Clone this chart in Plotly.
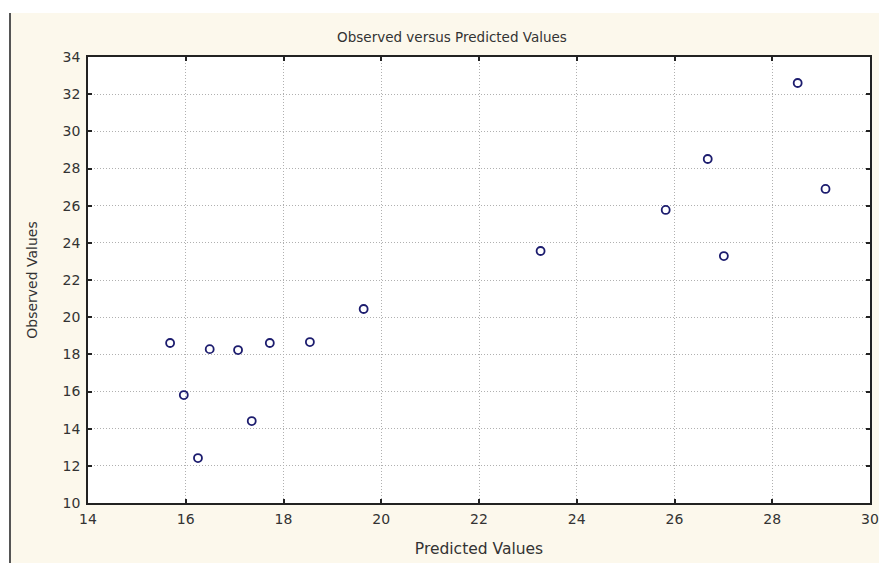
import plotly.graph_objects as go

predicted = [15.68, 15.96, 16.25, 16.49, 17.07, 17.35, 17.72, 18.54, 19.64,
             23.26, 25.82, 26.68, 27.01, 28.52, 29.09]
observed = [18.61, 15.81, 12.42, 18.28, 18.23, 14.41, 18.61, 18.66, 20.44,
            23.56, 25.77, 28.51, 23.29, 32.60, 26.90]

title_text = "Observed versus Predicted Values"
x_title = "Predicted Values"
y_title = "Observed Values"

W, H = 879, 563
L, R, T, B = 88, 9, 57, 60
pw, ph = W - L - R, H - T - B
FONT = "DejaVu Sans, Verdana, sans-serif"
TXT = "#333333"

def px_x(p):
    return (p - L) / pw

def px_y(p):
    return (H - B - p) / ph

fig = go.Figure()
fig.add_trace(go.Scatter(
    x=predicted, y=observed, mode="markers",
    marker=dict(symbol="circle-open", size=8, color="#1c1c6e",
                line=dict(width=1.8, color="#1c1c6e")),
    showlegend=False, hoverinfo="x+y"))

axis_common = dict(
    showline=True, linecolor="#222", linewidth=1.5, mirror="ticks",
    ticks="inside", ticklen=4, tickwidth=1.5, tickcolor="#222",
    showgrid=True, gridcolor="#b0b0b0", griddash="1px,2px", gridwidth=1,
    zeroline=False, automargin=False,
    tickfont=dict(family=FONT, size=14, color=TXT),
)

fig.update_layout(
    width=W, height=H,
    margin=dict(l=L, r=R, t=T, b=B, autoexpand=False),
    paper_bgcolor="#fcf8ec", plot_bgcolor="white",
    font=dict(family=FONT, size=12, color=TXT),
    title=dict(text=title_text, x=(452) / W, xanchor="center", y=1 - 37 / H, yanchor="middle",
               font=dict(family=FONT, size=13.5, color=TXT)),
    xaxis=dict(range=[14, 30], dtick=2, **axis_common, ticklabelstandoff=2,
               title=dict(text=x_title, standoff=18, font=dict(family=FONT, size=15.5, color=TXT))),
    yaxis=dict(range=[10, 34], dtick=2, **axis_common, ticklabelstandoff=3,
               title=dict(text=y_title, standoff=22, font=dict(family=FONT, size=14, color=TXT))),
    shapes=[
        dict(type="rect", xref="paper", yref="paper", x0=px_x(0), x1=px_x(W), y0=px_y(13), y1=px_y(0),
             fillcolor="white", line=dict(width=0), layer="above"),
        dict(type="rect", xref="paper", yref="paper", x0=px_x(0), x1=px_x(10), y0=px_y(H), y1=px_y(0),
             fillcolor="white", line=dict(width=0), layer="above"),
        dict(type="line", xref="paper", yref="paper", x0=px_x(10), x1=px_x(10), y0=px_y(H), y1=px_y(13),
             line=dict(color="#555", width=2), layer="above"),
    ],
)

fig.write_html("out.html", config={"displayModeBar": False},
               post_script="document.body.style.margin='0';document.body.style.overflow='hidden';")
